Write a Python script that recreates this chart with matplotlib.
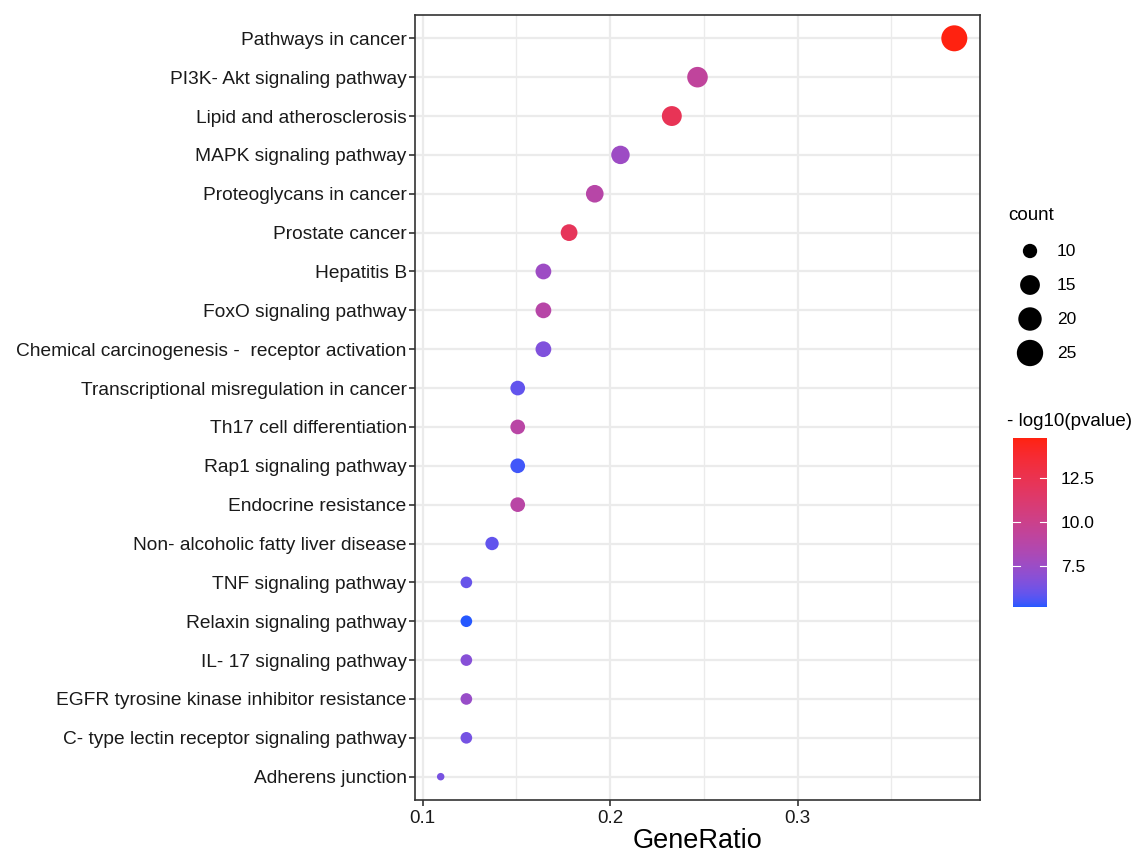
import numpy as np
import matplotlib
matplotlib.use("Agg")
import matplotlib.pyplot as plt
from matplotlib.colors import ListedColormap, Normalize
import matplotlib.cm as cm

plt.rcParams['font.family'] = ['Liberation Sans', 'DejaVu Sans']

pathways = [
    "Pathways in cancer",
    "PI3K- Akt signaling pathway",
    "Lipid and atherosclerosis",
    "MAPK signaling pathway",
    "Proteoglycans in cancer",
    "Prostate cancer",
    "Hepatitis B",
    "FoxO signaling pathway",
    "Chemical carcinogenesis -  receptor activation",
    "Transcriptional misregulation in cancer",
    "Th17 cell differentiation",
    "Rap1 signaling pathway",
    "Endocrine resistance",
    "Non- alcoholic fatty liver disease",
    "TNF signaling pathway",
    "Relaxin signaling pathway",
    "IL- 17 signaling pathway",
    "EGFR tyrosine kinase inhibitor resistance",
    "C- type lectin receptor signaling pathway",
    "Adherens junction",
]
counts = [28, 18, 17, 15, 14, 13, 12, 12, 12, 11, 11, 11, 11, 10, 9, 9, 9, 9, 9, 8]
total_genes = 73
gene_ratio = [c / total_genes for c in counts]
neglog_p = [14.8, 9.3, 12.3, 7.6, 8.8, 12.1, 7.6, 8.8, 6.6, 5.9,
            8.9, 5.4, 8.9, 5.9, 6.0, 5.17, 6.8, 7.4, 6.3, 6.4]
legend_counts = [10, 15, 20, 25]
cbar_ticks = [7.5, 10.0, 12.5]
x_ticks = [0.1, 0.2, 0.3]

# --- Lab gradient (ggplot-like) ---
def srgb_to_lin(c):
    c = np.asarray(c, float)
    return np.where(c <= 0.04045, c / 12.92, ((c + 0.055) / 1.055) ** 2.4)
def lin_to_srgb(c):
    c = np.clip(c, 0, 1)
    return np.where(c <= 0.0031308, 12.92 * c, 1.055 * c ** (1 / 2.4) - 0.055)
M = np.array([[0.4124, 0.3576, 0.1805], [0.2126, 0.7152, 0.0722], [0.0193, 0.1192, 0.9505]])
Minv = np.linalg.inv(M)
wp = np.array([0.95047, 1.0, 1.08883])
def f(t):
    return np.where(t > (6/29)**3, np.cbrt(t), t / (3*(6/29)**2) + 4/29)
def finv(t):
    return np.where(t > 6/29, t**3, 3*(6/29)**2*(t - 4/29))
def rgb_to_lab(rgb):
    xyz = M @ srgb_to_lin(rgb) / wp
    fx, fy, fz = f(xyz)
    return np.array([116*fy - 16, 500*(fx - fy), 200*(fy - fz)])
def lab_to_rgb(lab):
    L, a, b = lab
    fy = (L + 16) / 116
    xyz = np.array([finv(fy + a/500), finv(fy), finv(fy - b/200)]) * wp
    return lin_to_srgb(Minv @ xyz)
lo = rgb_to_lab(np.array([0x26, 0x58, 0xff]) / 255)
hi = rgb_to_lab(np.array([0xff, 0x22, 0x10]) / 255)
cols = [lab_to_rgb(lo + (hi - lo) * t) for t in np.linspace(0, 1, 256)]
cmap = ListedColormap(np.clip(np.array(cols), 0, 1))
vmin, vmax = min(neglog_p), max(neglog_p)
norm = Normalize(vmin, vmax)

def size_px(v):
    cmin, cmax = min(counts), max(counts)
    return 7.5 + 18.5 * np.sqrt((np.asarray(v, float) - cmin) / (cmax - cmin))
def s_pts(v):
    return (size_px(v) * 0.72) ** 2

W, H = 1142, 856
fig = plt.figure(figsize=(W / 100, H / 100), dpi=100)
ax = fig.add_axes([415 / W, 1 - 800 / H, (980 - 415) / W, (800 - 15) / H])

n = len(pathways)
ypos = np.arange(n)[::-1]
ax.set_axisbelow(True)
ax.scatter(gene_ratio, ypos, s=s_pts(counts), c=neglog_p, cmap=cmap, norm=norm,
           edgecolors='none', zorder=3)

xr = max(gene_ratio) - min(gene_ratio)
ax.set_xlim(min(gene_ratio) - 0.05 * xr, max(gene_ratio) + 0.05 * xr)
ax.set_ylim(-0.6, n - 1 + 0.6)
ax.set_yticks(ypos)
ax.set_yticklabels(pathways, fontsize=13.8, color='#1a1a1a')
ax.set_xticks(x_ticks)
ax.set_xticklabels([str(t) for t in x_ticks], fontsize=13.5, color='#1a1a1a')
ax.set_xticks([0.15, 0.25, 0.35], minor=True)
ax.grid(True, which='major', color='#ebebeb', linewidth=1.6)
ax.grid(True, which='minor', axis='x', color='#ebebeb', linewidth=1.0)
ax.tick_params(which='minor', length=0)
ax.tick_params(axis='y', which='major', length=4, width=1.2, color='#333333', pad=2)
ax.tick_params(axis='x', which='major', length=4, width=1.2, color='#333333', pad=3)
for sp in ax.spines.values():
    sp.set_color('#333333')
    sp.set_linewidth(1.2)
ax.set_xlabel('GeneRatio', fontsize=19.5, labelpad=1)

# size legend
fig.text(1008 / W, 1 - 215 / H, 'count', fontsize=13.5, va='center', ha='left')
lax = fig.add_axes([1012 / W, 1 - 370 / H, 40 / W, 136 / H])
lax.set_xlim(0, 1)
lax.set_ylim(370, 234)
ly = [251, 285, 319, 353]
lax.scatter([0.45] * len(legend_counts), ly, s=s_pts(legend_counts) * 1.15, color='black',
            edgecolors='none')
lax.axis('off')
for v, y in zip(legend_counts, ly):
    fig.text(1057 / W, 1 - y / H, str(v), fontsize=12.5, va='center', ha='left')

# colorbar
fig.text(1007 / W, 1 - 422 / H, '- log10(pvalue)', fontsize=13.5, va='center', ha='left')
cax = fig.add_axes([1013 / W, 1 - 607 / H, 34 / W, (607 - 438) / H])
sm = cm.ScalarMappable(norm=norm, cmap=cmap)
cb = fig.colorbar(sm, cax=cax)
cb.outline.set_visible(False)
cb.set_ticks(cbar_ticks)
cb.set_ticklabels([f'{t:.1f}' for t in cbar_ticks])
cax.tick_params(length=0, labelsize=12.5, pad=10)
for t in cbar_ticks:
    cax.plot([0, 0.2], [t, t], color='white', lw=0.8, transform=cax.get_yaxis_transform())
    cax.plot([0.8, 1.0], [t, t], color='white', lw=0.8, transform=cax.get_yaxis_transform())

fig.savefig('out.png', dpi=100, facecolor='white')
